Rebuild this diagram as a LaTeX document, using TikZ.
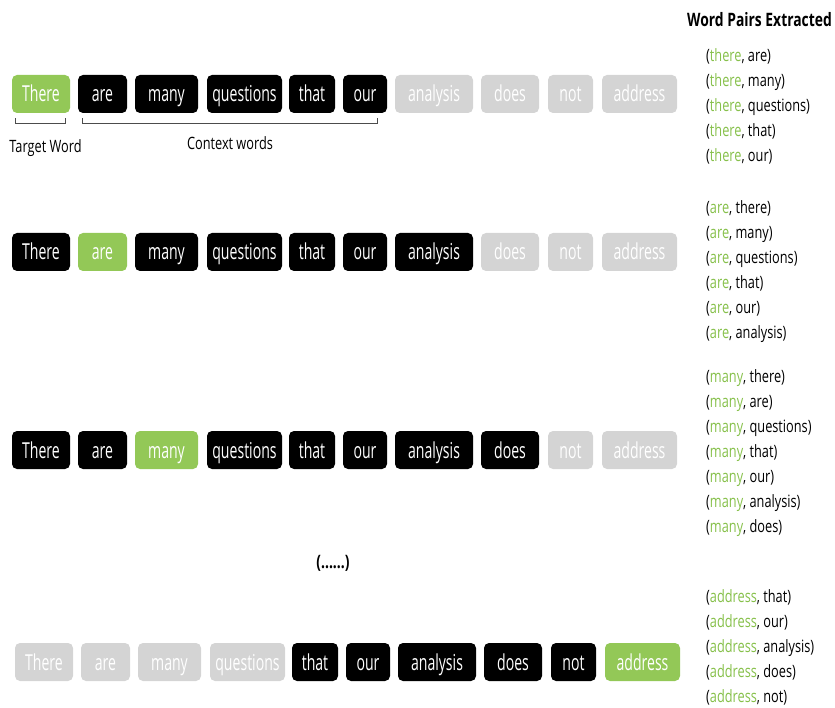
\documentclass[tikz,border=0pt]{standalone}
\usepackage{fontspec}
\setmainfont{Open Sans}[FakeStretch=0.75]
\newfontfamily\boxfont{Open Sans}[FakeStretch=0.64]
\usetikzlibrary{calc,positioning}
\definecolor{tgtgreen}{HTML}{93C857}
\definecolor{pairgreen}{HTML}{86C04A}
\definecolor{fargray}{HTML}{D4D4D4}
\tikzset{
  wordbox/.style={rounded corners=5pt, minimum height=38pt, inner sep=0pt,
    text=white, font=\boxfont\fontsize{22}{24}\selectfont, text height=16pt, text depth=0pt},
  tgt/.style={wordbox, fill=tgtgreen},
  ctx/.style={wordbox, fill=black},
  far/.style={wordbox, fill=fargray},
  brk/.style={line width=0.8pt, color=black!70},
  lbl/.style={font=\fontsize{17}{19}\selectfont, inner sep=0pt, anchor=base},
  pairs/.style={align=left, inner sep=0pt, anchor=north west,
    font=\fontsize{17}{25}\selectfont},
  head/.style={font=\fontsize{18.5}{20}\selectfont\bfseries, inner sep=0pt},
}
\newcommand{\tw}[1]{\textcolor{pairgreen}{#1}}

\begin{document}
\begin{tikzpicture}[x=1pt,y=-1pt]
  \useasboundingbox (0,0) rectangle (835,708);
  % one row per target word: target index / row centre / shift
  \foreach \t/\yy/\dx in {1/94/0, 2/252/0, 3/450/0, 10/662/3}{
    \foreach \i/\c/\bw/\word in {1/41/58/There, 2/102.5/49/are, 3/166.5/63/many,
        4/244.5/75/questions, 5/312/46/that, 6/365/44/our, 7/434/78/analysis,
        8/510/58/does, 9/570.5/45/not, 10/639.5/75/address}{
      \pgfmathtruncatemacro\dist{abs(\i-\t)}
      \ifnum\dist=0 \def\sty{tgt}\else\ifnum\dist<6 \def\sty{ctx}\else\def\sty{far}\fi\fi
      \node[\sty, minimum width=\bw pt] (w\t-\i) at (\c+\dx,\yy) {\word};
    }
  }
  % brackets under the first row
  \draw[brk] ($(w1-1.south west)+(4,5)$) -- ++(0,5) coordinate (tgtl)
    -- ($(w1-1.south east)+(-5,10)$) coordinate (tgtr) -- ++(0,-5);
  \draw[brk] ($(w1-2.south west)+(5,5)$) -- ++(0,5) coordinate (ctxl)
    -- ($(w1-6.south east)+(-10,10)$) coordinate (ctxr) -- ++(0,-5);
  \coordinate (tgtmid) at ($(tgtl)!0.5!(tgtr)$);
  \coordinate (ctxmid) at ($(ctxl)!0.5!(ctxr)$);
  \node[lbl] (tgtlbl) at ($(tgtmid)+(5,29)$) {Target Word};
  \node[lbl] (ctxlbl) at ($(ctxmid)+(0,26)$) {Context words};
  \node[head] (dots) at (333,563) {(......)};
  % extracted pairs
  \node[head, anchor=base west] (title) at (687,27) {Word Pairs Extracted};
  \node[pairs] (pr1) at (706,48) {(\tw{there}, are)\\(\tw{there}, many)\\
    (\tw{there}, questions)\\(\tw{there}, that)\\(\tw{there}, our)};
  \node[pairs] (pr2) at (706,200) {(\tw{are}, there)\\(\tw{are}, many)\\
    (\tw{are}, questions)\\(\tw{are}, that)\\(\tw{are}, our)\\(\tw{are}, analysis)};
  \node[pairs] (pr3) at (706,369) {(\tw{many}, there)\\(\tw{many}, are)\\
    (\tw{many}, questions)\\(\tw{many}, that)\\(\tw{many}, our)\\
    (\tw{many}, analysis)\\(\tw{many}, does)};
  \node[pairs] (pr4) at (706,589) {(\tw{address}, that)\\(\tw{address}, our)\\
    (\tw{address}, analysis)\\(\tw{address}, does)\\(\tw{address}, not)};
\end{tikzpicture}
\end{document}
